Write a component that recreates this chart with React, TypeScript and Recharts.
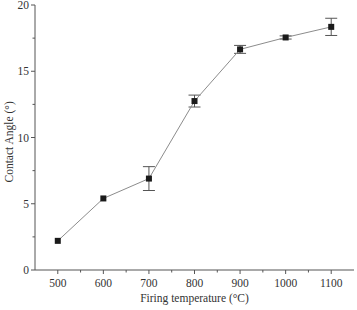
import React from 'react'
import {
  ComposedChart,
  Line,
  XAxis,
  YAxis,
  ErrorBar,
} from 'recharts'

const temperatures = [500, 600, 700, 800, 900, 1000, 1100]
const contactAngles = [2.2, 5.4, 6.9, 12.75, 16.65, 17.55, 18.35]
const angleErrors = [0, 0, 0.9, 0.45, 0.3, 0.12, 0.65]

const xTicks = [500, 550, 600, 650, 700, 750, 800, 850, 900, 950, 1000, 1050, 1100]
const yTicks = [0, 2.5, 5, 7.5, 10, 12.5, 15, 17.5, 20]

const data = temperatures.map((t, i) => ({
  temp: t,
  angle: contactAngles[i],
  err: angleErrors[i],
}))

const axisColor = '#555'
const textColor = '#333'
const font = '"Liberation Serif", "DejaVu Serif", serif'

function XTick(props: any) {
  const { x, y, payload } = props
  const major = payload.value % 100 === 0
  return (
    <g>
      <line x1={x} x2={x} y1={y} y2={y + (major ? 4 : 2.5)} stroke={axisColor} />
      {major && (
        <text x={x} y={y + 17} textAnchor="middle" fontSize={11.5} fill={textColor} fontFamily={font}>
          {payload.value}
        </text>
      )}
    </g>
  )
}

function YTick(props: any) {
  const { x, y, payload } = props
  const major = payload.value % 5 === 0
  return (
    <g>
      <line x1={x} x2={x - (major ? 4 : 2.5)} y1={y} y2={y} stroke={axisColor} />
      {major && (
        <text x={x - 6} y={y + 4} textAnchor="end" fontSize={11.5} fill={textColor} fontFamily={font}>
          {payload.value}
        </text>
      )}
    </g>
  )
}

function SquareDot(props: any) {
  const { cx, cy } = props
  if (cx == null || cy == null) return null
  return <rect x={cx - 3} y={cy - 3} width={6} height={6} fill="#1a1a1a" />
}

export default function App() {
  return (
    <div style={{ position: 'absolute', left: 0, top: 0, background: '#fff' }}>
      <ComposedChart
        width={357}
        height={310}
        data={data}
        margin={{ top: 5, right: 3, left: 0, bottom: 0 }}
      >
        <XAxis
          dataKey="temp"
          type="number"
          domain={[450, 1150]}
          ticks={xTicks}
          interval={0}
          height={40}
          tickSize={0}
          tickMargin={0}
          tick={<XTick />}
          stroke={axisColor}
          label={{
            value: 'Firing temperature (°C)',
            position: 'insideBottom',
            offset: 8,
            fontSize: 11.5,
            fill: textColor,
            fontFamily: font,
          }}
        />
        <XAxis
          xAxisId="top"
          orientation="top"
          type="number"
          domain={[450, 1150]}
          height={0}
          tick={false}
          tickLine={false}
          stroke={axisColor}
        />
        <YAxis
          type="number"
          domain={[0, 20]}
          ticks={yTicks}
          interval={0}
          width={35}
          tickSize={0}
          tickMargin={0}
          tick={<YTick />}
          stroke={axisColor}
          label={{
            value: 'Contact Angle (°)',
            angle: -90,
            position: 'insideLeft',
            offset: 9,
            dy: 45,
            fontSize: 11.5,
            fill: textColor,
            fontFamily: font,
          }}
        />
        <YAxis
          yAxisId="right"
          orientation="right"
          type="number"
          domain={[0, 20]}
          width={0}
          tick={false}
          tickLine={false}
          stroke={axisColor}
        />
        <Line
          dataKey="angle"
          stroke="#8c8c8c"
          strokeWidth={1}
          dot={<SquareDot />}
          activeDot={false}
          isAnimationActive={false}
        >
          <ErrorBar dataKey="err" width={6} stroke="#555" strokeWidth={1} />
        </Line>
      </ComposedChart>
    </div>
  )
}
